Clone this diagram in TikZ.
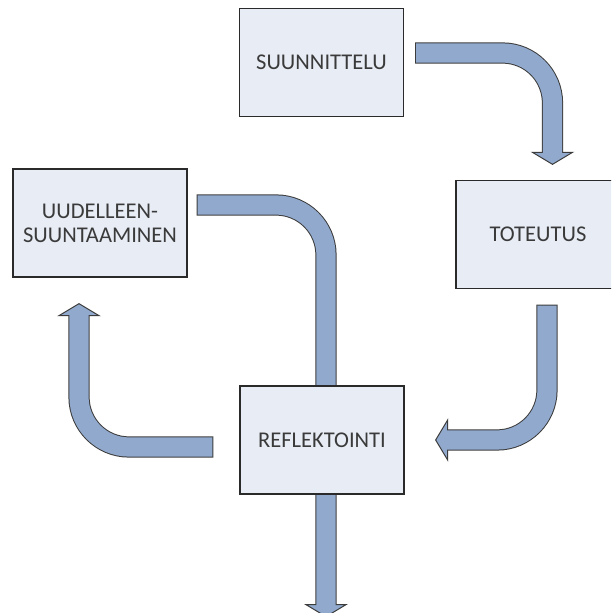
\documentclass[tikz,border=0pt]{standalone}
\usepackage{fontspec}
\setmainfont{Carlito}
\usetikzlibrary{calc,backgrounds}
\definecolor{boxfill}{HTML}{E7ECF5}
\definecolor{boxline}{HTML}{2A2A2A}
\definecolor{bandfill}{HTML}{90A9CD}
\definecolor{bandline}{HTML}{3C3C3C}
\definecolor{textcol}{HTML}{3A3A3A}
\tikzset{
  stage/.style={draw=boxline, fill=boxfill, line width=1.3pt,
    minimum width=164pt, minimum height=108pt, inner sep=2pt,
    align=center, text=textcol, font=\fontsize{22.5}{24}\selectfont},
  bandedge/.style={draw=bandline, line width=21.2pt, rounded corners=50pt},
  bandbody/.style={draw=bandfill, line width=19.2pt, rounded corners=50pt},
}
% broad bent arrow along a centre line: tail, bend, end of the shaft
\newcommand{\blockarrow}[3]{%
  \filldraw[fill=bandfill, draw=bandline, line width=1pt, line join=miter]
    ($(#3)!20pt!90:(#2)$) -- ($(#3)!-12pt!(#2)$) -- ($(#3)!20pt!-90:(#2)$) -- cycle;
  \draw[bandedge, shorten <=-1pt] (#1) -- (#2) -- (#3);
  \draw[bandbody, shorten >=-1.5pt] (#1) -- (#2) -- (#3);
}
\begin{document}
\begin{tikzpicture}[x=1pt, y=1pt]
  \useasboundingbox (0,0) rectangle (611,613);
  \clip (0,0) rectangle (611,613);

  % stages of the cycle
  \node[stage] (sun) at (321.5,550.5) {SUUNNITTELU};
  \node[stage] (tot) at (538,378.5) {TOTEUTUS};
  \node[stage] (ref) at (322,173) {REFLEKTOINTI};
  \node[stage, minimum width=174pt] (uud) at (100,390) {UUDELLEEN-\\SUUNTAAMINEN};

  % arrow ends and bends
  \coordinate (a1s) at ($(sun.east)+(12,9.5)$);
  \coordinate (a1e) at ($(tot.north)+(14.5,27.5)$);
  \coordinate (a1b) at (a1e |- a1s);
  \coordinate (a2s) at ($(uud.east)+(10,18)$);
  \coordinate (a2e) at ($(ref.south)+(4,-110)$);
  \coordinate (a2b) at (a2e |- a2s);
  \coordinate (a3s) at ($(tot.south)+(9,-16.5)$);
  \coordinate (a3e) at ($(ref.east)+(43,0)$);
  \coordinate (a3b) at (a3s |- a3e);
  \coordinate (a4s) at ($(ref.west)+(-27,-7)$);
  \coordinate (a4e) at ($(uud.south)+(-21,-38)$);
  \coordinate (a4b) at (a4e |- a4s);

  \begin{scope}[on background layer]
    \clip (0,0) rectangle (611,613);
    \fill[white] (0,0) rectangle (611,613);
    \blockarrow{a1s}{a1b}{a1e}
    \blockarrow{a2s}{a2b}{a2e}
    \blockarrow{a3s}{a3b}{a3e}
    \blockarrow{a4s}{a4b}{a4e}
  \end{scope}
\end{tikzpicture}
\end{document}
